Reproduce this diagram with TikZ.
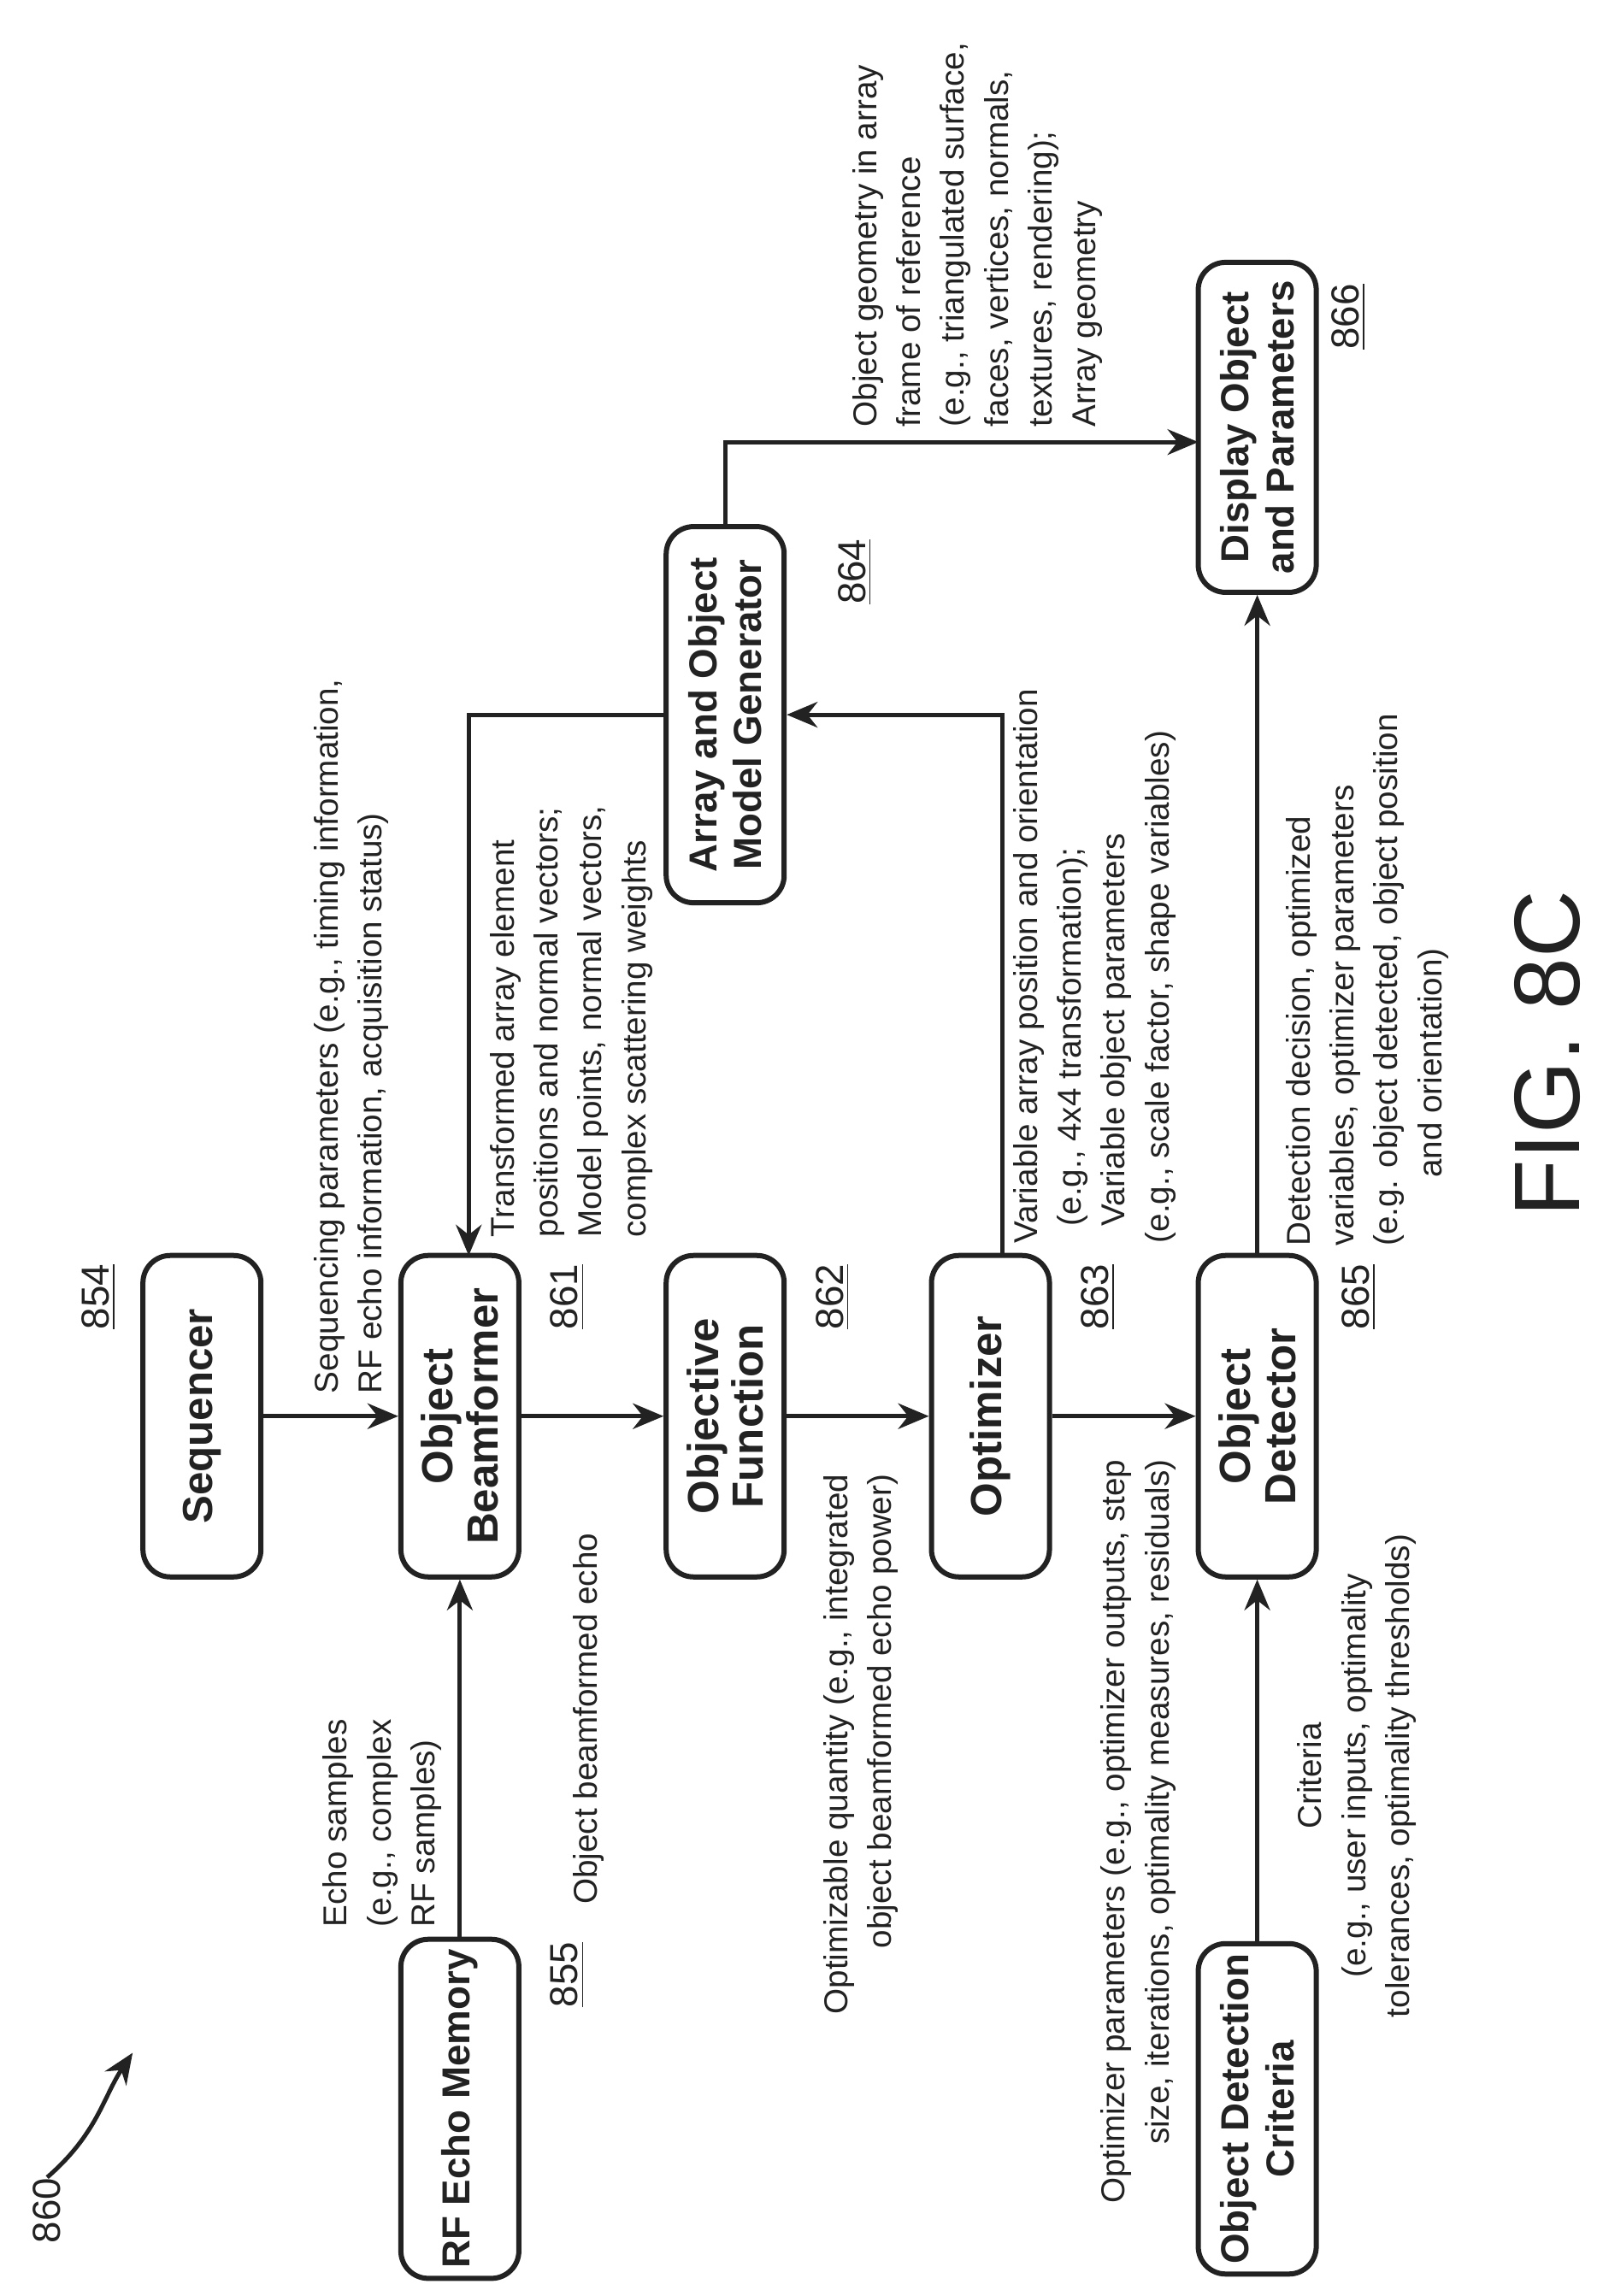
\documentclass[tikz,border=0pt]{standalone}
\usepackage{fontspec}
\setmainfont{Liberation Sans}
\usetikzlibrary{arrows.meta}
\definecolor{c222222}{RGB}{34,34,34}

\begin{document}
\begin{tikzpicture}[y=0.1724mm, x=0.1724mm, rotate=90,
  every node/.append style={transform shape, text=c222222},
  blk/.style={draw=c222222, line width=0.6mm, rounded corners=3.2mm, minimum width=37.6mm,
    minimum height=13.8mm, align=center, font=\fontsize{13}{15}\selectfont\bfseries},
  lbl/.style={font=\fontsize{11}{14.6}\selectfont, inner sep=0pt},
  num/.style={font=\fontsize{13}{15}\selectfont, inner sep=0pt},
  arr/.style={draw=c222222, line width=0.5mm, -{Stealth[length=3.6mm,width=3mm]}}]
  \useasboundingbox (0,-1083) rectangle (1558,0);

  % blocks
  \node[blk] (rfmem) at (127,-312) {RF Echo Memory};
  \node[blk] (crit) at (127,-853) {Object Detection\\Criteria};
  \node[blk] (seq) at (597,-137) {\fontsize{14}{17}\selectfont Sequencer};
  \node[blk] (bf) at (597,-312) {\fontsize{14.5}{17}\selectfont Object\\\fontsize{14.5}{17}\selectfont Beamformer};
  \node[blk] (obj) at (597,-492) {\fontsize{14.5}{17}\selectfont Objective\\\fontsize{14.5}{17}\selectfont Function};
  \node[blk] (opt) at (597,-672) {\fontsize{14.5}{17}\selectfont Optimizer};
  \node[blk] (det) at (597,-853) {\fontsize{14.5}{17}\selectfont Object\\\fontsize{14.5}{17}\selectfont Detector};
  \node[blk, minimum width=44mm] (gen) at (1073,-492) {Array and Object\\Model Generator};
  \node[blk, minimum width=38.6mm] (disp) at (1268,-853) {Display Object\\and Parameters};

  % numbers
  \node[num] (n854) at (678,-67) {\underline{854}};
  \node[num] (n861) at (678,-385) {\underline{861}};
  \node[num] (n862) at (678,-565) {\underline{862}};
  \node[num] (n863) at (678,-745) {\underline{863}};
  \node[num] (n865) at (678,-922) {\underline{865}};
  \node[num] (n855) at (218,-385) {\underline{855}};
  \node[num] (n864) at (1170,-580) {\underline{864}};
  \node[num] (n866) at (1343,-915) {\underline{866}};

  % connector corners
  \coordinate (optout) at (706,-680);
  \coordinate (bfin) at (706,-318);
  \coordinate (dispin) at (1258,-813);

  \draw[arr] (rfmem) -- (bf);
  \draw[arr] (seq) -- (bf);
  \draw[arr] (bf) -- (obj);
  \draw[arr] (obj) -- (opt);
  \draw[arr] (opt) -- (det);
  \draw[arr] (crit) -- (det);
  \draw[arr] (det) -- (disp);
  \draw[arr] (optout) -| (gen.south);
  \draw[arr] (gen.north) |- (bfin);
  \draw[arr] (gen.east) -| (dispin);

  % labels
  \node[lbl, anchor=south west, align=left] (tEcho) at (250,-300) {Echo samples\\(e.g., complex\\RF samples)};
  \node[lbl, anchor=south west, align=left] (tSeq) at (612,-264) {Sequencing parameters (e.g., timing information,\\RF echo information, acquisition status)};
  \node[lbl, anchor=south east] (tBf) at (518,-410) {Object beamformed echo};
  \node[lbl, anchor=south east, align=right] (tQty) at (558,-610) {Optimizable quantity (e.g., integrated\\object beamformed echo power)};
  \node[lbl, anchor=south east, align=right] (tOpt) at (568,-798) {Optimizer parameters (e.g., optimizer outputs, step\\size, iterations, optimality measures, residuals)};
  \node[lbl, anchor=north, align=center] (tCrit) at (353,-880) {Criteria\\(e.g., user inputs, optimality\\tolerances, optimality thresholds)};
  \node[lbl, anchor=north west, align=left] (tDet) at (712,-872) {Detection decision, optimized\\variables, optimizer parameters\\(e.g. object detected, object position\\\hspace*{8mm}and orientation)};
  \node[lbl, anchor=north west, align=left] (tVar) at (714,-687) {Variable array position and orientation\\\hspace*{2mm}(e.g., 4x4 transformation);\\\hspace*{2mm}Variable object parameters\\(e.g., scale factor, shape variables)};
  \node[lbl, anchor=north west, align=left] (tTrans) at (718,-332) {Transformed array element\\positions and normal vectors;\\Model points, normal vectors,\\complex scattering weights};
  \node[lbl, anchor=north west, align=left] (tGeo) at (1268,-578) {Object geometry in array\\frame of reference\\(e.g., triangulated surface,\\faces, vertices, normals,\\textures, rendering);\\Array geometry};

  % figure reference
  \node[num] (n860) at (58,-32) {860};
  \coordinate (ref) at (165,-90);
  \draw[arr] (n860.east) .. controls (110,-66) and (135,-70) .. (ref);
  \node[font=\fontsize{31}{35}\selectfont] (fig) at (843,-1050) {FIG. 8C};
\end{tikzpicture}
\end{document}
